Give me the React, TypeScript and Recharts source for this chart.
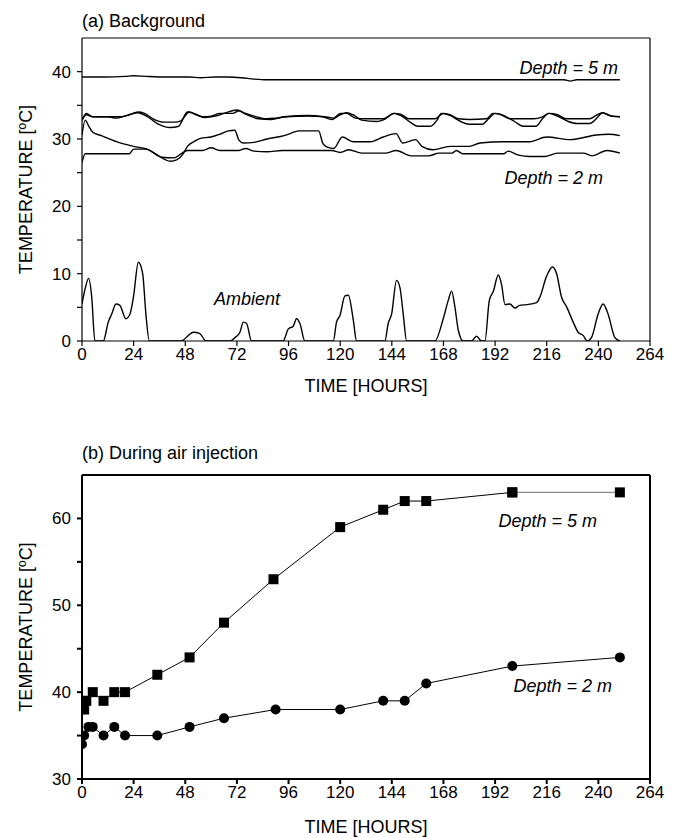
import { LineChart, Line, XAxis, YAxis } from "recharts";

// hours on both panels
const hourTicks = [0, 24, 48, 72, 96, 120, 144, 168, 192, 216, 240, 264];
const bgTempTicks = [0, 5, 10, 15, 20, 25, 30, 35, 40];
const airTempTicks = [30, 35, 40, 45, 50, 55, 60];

// (a) background, [hour, °C]
const bgDeep5 = [
  [0, 39.2], [10, 39.2], [20, 39.3], [24, 39.4], [30, 39.3], [40, 39.2], [50, 39.2],
  [55, 39.1], [62, 39.2], [68, 39.2], [74, 39.1], [80, 38.9], [86, 38.8], [120, 38.8],
  [160, 38.8], [200, 38.8], [224, 38.8], [227, 38.6], [230, 38.8], [250, 38.8],
];

const bgUpperA = [
  [0, 32.8], [2, 33.8], [5, 33.3], [12, 33.3], [18, 33.3], [22, 33.6], [26, 34.0], [29, 33.8],
  [33, 33.0], [38, 32.5], [43, 32.5], [46, 32.7], [49, 34.0], [52, 33.8], [56, 33.3], [60, 33.4],
  [64, 33.8], [70, 33.8], [73, 34.2], [76, 33.8], [80, 33.4], [86, 33.0], [90, 33.1], [95, 33.3],
  [105, 33.4], [113, 33.3], [117, 33.1], [120, 33.8], [123, 33.8], [127, 33.1], [132, 33.0],
  [140, 33.0], [145, 33.8], [148, 33.7], [152, 33.0], [160, 33.0], [164, 33.0], [168, 33.8],
  [171, 33.6], [175, 33.0], [180, 32.9], [188, 33.0], [191, 33.8], [194, 33.7], [199, 33.0],
  [210, 33.0], [214, 33.3], [217, 33.8], [221, 33.6], [225, 33.0], [236, 33.0], [239, 33.5],
  [242, 33.9], [246, 33.4], [250, 33.3],
];

const bgUpperB = [
  [0, 32.8], [2, 33.6], [5, 33.3], [12, 33.3], [16, 33.1], [20, 33.4], [26, 33.9], [30, 33.4],
  [35, 32.3], [41, 31.7], [45, 31.9], [47, 33.0], [50, 34.0], [53, 33.6], [57, 33.2], [62, 33.4],
  [66, 33.8], [72, 34.3], [76, 33.7], [82, 33.0], [88, 32.9], [94, 33.3], [105, 33.5], [112, 33.3],
  [116, 32.9], [120, 33.6], [123, 33.9], [126, 33.6], [130, 32.8], [137, 32.6], [141, 33.0],
  [145, 33.8], [148, 33.5], [153, 32.4], [156, 31.9], [162, 31.9], [165, 32.8], [167, 33.8],
  [171, 33.5], [176, 32.6], [180, 32.2], [186, 32.2], [189, 33.0], [192, 33.8], [195, 33.6],
  [201, 32.6], [205, 31.9], [211, 31.9], [214, 33.0], [217, 33.8], [221, 33.4], [226, 32.6],
  [230, 32.3], [236, 32.3], [239, 33.0], [242, 33.9], [245, 33.5], [250, 33.3],
];

const bgMiddle = [
  [0, 30.6], [1.5, 32.8], [3, 32.0], [5, 31.0], [9, 30.5], [16, 29.6], [24, 28.9], [31, 28.4],
  [36, 27.4], [41, 26.7], [44, 26.9], [47, 27.8], [49, 28.9], [52, 29.6], [55, 30.1], [60, 30.3],
  [64, 30.7], [68, 31.2], [71, 31.3], [73, 29.8], [75, 29.4], [80, 29.5], [86, 30.0], [94, 30.5],
  [101, 31.2], [110, 31.2], [112, 29.3], [114, 28.8], [117, 28.6], [121, 30.3], [126, 29.6],
  [134, 29.6], [140, 30.3], [146, 30.8], [149, 29.4], [155, 29.9], [158, 28.9], [163, 28.4],
  [171, 28.9], [180, 28.9], [185, 29.4], [196, 29.6], [208, 29.6], [216, 30.3], [227, 29.9],
  [239, 30.6], [245, 30.7], [250, 30.5],
];

const bgDeep2 = [
  [0, 26.5], [1.5, 27.8], [10, 27.8], [22, 27.8], [24, 28.5], [30, 28.5], [34, 27.8], [37, 27.3],
  [43, 27.2], [46, 27.8], [49, 28.3], [56, 28.3], [60, 28.7], [64, 28.3], [73, 28.3], [76, 28.6],
  [80, 28.2], [86, 28.1], [93, 28.3], [116, 28.3], [120, 28.0], [124, 28.4], [130, 27.9],
  [141, 27.9], [146, 28.3], [153, 27.5], [161, 27.5], [166, 27.9], [172, 27.9], [174, 28.3],
  [177, 27.8], [196, 27.8], [198, 28.2], [203, 27.6], [208, 27.4], [215, 27.4], [221, 27.9],
  [233, 27.9], [237, 27.5], [244, 28.3], [250, 27.9],
];

const ambient = [
  [0, 5.5], [1.4, 7.7], [3.1, 9.3], [4.5, 6.6], [6, 0], [9.9, 0], [12.2, 2.8], [13.8, 4.0],
  [15.8, 5.5], [17.6, 5.3], [20.4, 3.3], [22.3, 4.0], [23.9, 6.5], [26.2, 11.7], [28.2, 10.0],
  [29.7, 4.0], [31.3, 0], [46.3, 0], [48.7, 0.6], [51.7, 1.3], [54.8, 1.1], [57.6, 0], [68.8, 0],
  [71.1, 0.5], [73.4, 1.3], [75, 2.8], [76.5, 2.6], [78.8, 0], [93.5, 0], [95.9, 1.8], [98.2, 2.2],
  [99.7, 3.3], [101.3, 2.6], [103.6, 0], [116.8, 0], [118.3, 2.8], [119.9, 3.8], [122.2, 6.7],
  [123.8, 6.8], [126.1, 3.1], [127.6, 0], [140.8, 0], [142.3, 2.6], [143.9, 4.0], [146.2, 9.0],
  [147.8, 7.9], [149.3, 4.0], [150.9, 0], [164, 0], [167.9, 3.3], [170.2, 6.0], [171.8, 7.4],
  [173.3, 5.1], [174.9, 1.6], [177.2, 0], [181, 0], [183.4, 0.7], [185.7, 0], [187.3, 0],
  [189.3, 6.0], [191.2, 7.4], [193.5, 9.8], [195, 8.4], [196.6, 5.4], [198.9, 5.5], [201.2, 4.9],
  [203.5, 5.3], [206.6, 5.4], [211.3, 5.7], [212.8, 6.5], [215.9, 9.6], [218.7, 11.0],
  [220.5, 10.1], [222.9, 6.5], [225.2, 5.1], [228.3, 2.8], [230.6, 1.3], [233, 0.8], [234.8, 0],
  [236.8, 0.5], [239.9, 4.0], [242.2, 5.5], [244.5, 4.0], [247.7, 0.5], [250, 0],
];

// (b) during air injection
const airHours5 = [0, 1, 2, 5, 10, 15, 20, 35, 50, 66, 89, 120, 140, 150, 160, 200, 250];
const airTemp5 = [39, 38, 39, 40, 39, 40, 40, 42, 44, 48, 53, 59, 61, 62, 62, 63, 63];
const airHours2 = [0, 1, 3, 5, 10, 15, 20, 35, 50, 66, 90, 120, 140, 150, 160, 200, 250];
const airTemp2 = [34, 35, 36, 36, 35, 36, 35, 35, 36, 37, 38, 38, 39, 39, 41, 43, 44];

const font = "'Liberation Sans', Arial, sans-serif";
const toPts = (arr: number[][]) => arr.map(([t, v]) => ({ t, v }));
const zipPts = (hs: number[], vs: number[]) => hs.map((t, i) => ({ t, v: vs[i] }));

const air5 = zipPts(airHours5, airTemp5);
const air2 = zipPts(airHours2, airTemp2);

const Square = (p: any) => (
  <rect key={`sq-${p.index}`} x={p.cx - 5} y={p.cy - 5} width={10} height={10} fill="#000" />
);

// full box: labelled bottom/left axes, bare top/right axes with inward ticks
function axes(domain: number[], yTicks: number[], w: number) {
  const line = { stroke: "#000", strokeWidth: w };
  const tickStyle = { fontSize: 17, fill: "#000", fontFamily: font };
  return [
    <XAxis key="xb" xAxisId="b" dataKey="t" type="number" domain={[0, 264]} ticks={hourTicks}
      allowDataOverflow axisLine={line} tickLine={line} tickSize={5} tick={tickStyle} height={30} />,
    <XAxis key="xt" xAxisId="t" dataKey="t" type="number" domain={[0, 264]} ticks={hourTicks}
      allowDataOverflow orientation="top" axisLine={line} tickLine={line} tickSize={-5} tick={false} height={1} />,
    <YAxis key="yl" yAxisId="l" type="number" domain={domain} ticks={yTicks} allowDataOverflow
      axisLine={line} tickLine={line} tickSize={5} tickMargin={6} tick={tickStyle} width={50}
      tickFormatter={(v: number) => (v % 10 === 0 ? String(v) : "")} />,
    <YAxis key="yr" yAxisId="r" type="number" domain={domain} ticks={yTicks} allowDataOverflow
      orientation="right" axisLine={line} tickLine={line} tickSize={-5} tick={false} width={1} />,
  ];
}

export default function App() {
  const bgLines = [bgUpperA, bgUpperB, bgMiddle, bgDeep2, ambient];
  return (
    <div style={{ position: "absolute", left: 0, top: 0, width: 678, height: 838, background: "#fff" }}>
      {/* (a) Background */}
      <div style={{ position: "absolute", left: 0, top: 0 }}>
        <LineChart width={678} height={400} margin={{ top: 37, right: 27, bottom: 29, left: 32 }}>
          {axes([0, 45], bgTempTicks, 1.2)}
          <Line data={toPts(bgDeep5)} dataKey="v" xAxisId="t" yAxisId="r" type="monotone"
            stroke="#000" strokeWidth={1.4} dot={false} isAnimationActive={false} />
          {bgLines.map((s, i) => (
            <Line key={i} data={toPts(s)} dataKey="v" xAxisId="b" yAxisId="l" type="monotone"
              stroke="#000" strokeWidth={1.4} dot={false} isAnimationActive={false} />
          ))}
        </LineChart>
      </div>

      {/* (b) During air injection */}
      <div style={{ position: "absolute", left: 0, top: 420 }}>
        <LineChart width={678} height={418} margin={{ top: 54, right: 27, bottom: 29, left: 32 }}>
          {axes([30, 65], airTempTicks, 2)}
          <Line data={air2} dataKey="v" xAxisId="b" yAxisId="l" type="linear" stroke="#000"
            strokeWidth={1} dot={{ r: 5, fill: "#000", stroke: "#000", strokeWidth: 0 }}
            isAnimationActive={false} />
          <Line data={air5.slice(-2)} dataKey="v" xAxisId="t" yAxisId="r" type="linear" stroke="#8a8a8a"
            strokeWidth={1.2} dot={Square} isAnimationActive={false} />
          <Line data={air5.slice(0, -1)} dataKey="v" xAxisId="t" yAxisId="r" type="linear" stroke="#000"
            strokeWidth={1} dot={Square} isAnimationActive={false} />
        </LineChart>
      </div>

      <svg width={678} height={838} style={{ position: "absolute", left: 0, top: 0, pointerEvents: "none" }}
        fontFamily={font} fill="#000">
        <text x={82} y={26.5} fontSize={18}>(a) Background</text>
        <text x={618} y={74} fontSize={18} fontStyle="italic" textAnchor="end">Depth = 5 m</text>
        <text x={603} y={184} fontSize={18} fontStyle="italic" textAnchor="end">Depth = 2 m</text>
        <text x={214} y={305} fontSize={18} fontStyle="italic">Ambient</text>
        <text x={366} y={392} fontSize={18} textAnchor="middle">TIME [HOURS]</text>
        <text transform="translate(31.5,189.5) rotate(-90)" fontSize={18} textAnchor="middle">TEMPERATURE [ºC]</text>

        <text x={82} y={459} fontSize={18}>(b) During air injection</text>
        <text x={597} y={527} fontSize={18} fontStyle="italic" textAnchor="end">Depth = 5 m</text>
        <text x={612} y={692} fontSize={18} fontStyle="italic" textAnchor="end">Depth = 2 m</text>
        <text x={366} y={833} fontSize={18} textAnchor="middle">TIME [HOURS]</text>
        <text transform="translate(31.5,627) rotate(-90)" fontSize={18} textAnchor="middle">TEMPERATURE [ºC]</text>
      </svg>
    </div>
  );
}
